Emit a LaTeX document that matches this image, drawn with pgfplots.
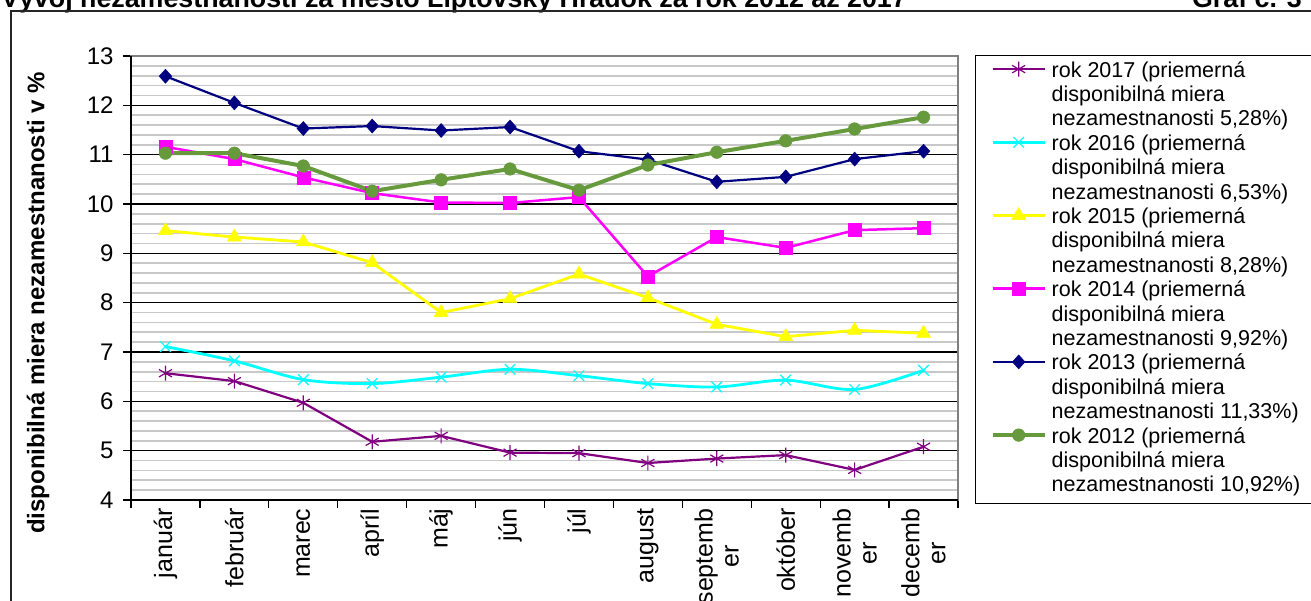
\documentclass[border=0pt]{standalone}
\usepackage{fontspec}
\setmainfont{Liberation Sans}
\usepackage{pgfplots}
\pgfplotsset{compat=1.18}

\definecolor{r17}{HTML}{800080}
\definecolor{r16}{HTML}{00FFFF}
\definecolor{r15}{HTML}{FFFF00}
\definecolor{r14}{HTML}{FF00FF}
\definecolor{r13}{HTML}{000080}
\definecolor{r12}{HTML}{669A3C}
\definecolor{gridminor}{HTML}{C8C8C8}
\definecolor{plotframe}{HTML}{808080}

% three-line legend text, first line on the baseline
\newcommand{\lentry}[2]{\begin{tabular}[t]{@{}l@{\hspace{25pt}}}rok #1 (priemerná\\disponibilná miera\\nezamestnanosti #2\%)\end{tabular}}

\begin{document}
\begin{tikzpicture}
\useasboundingbox (0pt,-601pt) rectangle (1311pt,0pt);
\clip (0pt,-601pt) rectangle (1311pt,0pt);

\node[anchor=base west, inner sep=0, font=\bfseries\fontsize{26.8}{28}\selectfont] at (1pt,-8pt)
  {Vývoj nezamestnanosti za mesto Liptovský Hrádok za rok 2012 až 2017};
\node[anchor=base east, inner sep=0, font=\bfseries\fontsize{26.8}{28}\selectfont] at (1302pt,-8pt) {Graf č. 3};
\draw[line width=1.6pt, black!85] (11pt,-620pt) -- (11pt,-11pt) -- (1330pt,-11pt);

\begin{axis}[
  at={(131pt,-500pt)}, anchor=south west,
  width=827pt, height=444pt, scale only axis,
  xmin=0.5, xmax=12.5, ymin=4, ymax=13,
  xtick={0.5,1.5,...,12.5}, xticklabels={},
  extra x ticks={1,2,3,4,5,6,7,8,9,10,11,12},
  extra x tick labels={január,február,marec,apríl,máj,jún,júl,august,{septemb\\er},október,{novemb\\er},{decemb\\er}},
  extra x tick style={major tick length=0pt},
  ytick={4,5,...,13},
  minor y tick num=4,
  ymajorgrids, yminorgrids,
  major grid style={black, line width=1.3pt},
  minor grid style={gridminor, line width=1.7pt},
  tick align=outside, xtick pos=bottom, ytick pos=left,
  major tick length=8pt, minor tick length=0pt,
  tick style={black, line width=1.3pt},
  axis line style={plotframe, line width=1.3pt},
  /pgf/number format/assume math mode=true,
  tick label style={font=\fontsize{24}{26}\selectfont},
  xticklabel style={rotate=90, anchor=east, align=center, font=\fontsize{25}{26}\selectfont},
  xticklabel shift=5pt,
  yticklabel style={anchor=east},
  yticklabel shift=6pt,
  ylabel={disponibilná miera nezamestnanosti v \%},
  ylabel style={font=\bfseries\fontsize{24}{26}\selectfont, at={(axis description cs:-0.1125,0.4437)}, anchor=center},
  legend style={at={(axis description cs:1.0206,1.0023)}, anchor=north west,
    draw=black, line width=1.3pt, inner xsep=15pt, inner ysep=4.4pt,
    font=\fontsize{21.5}{24.4}\selectfont, row sep=0pt, column sep=5pt,
    nodes={inner sep=0pt, text depth=}, cells={anchor=base west}},
  legend image code/.code={\draw[mark repeat=2, mark phase=2, #1] plot coordinates {(0pt,8pt) (26pt,8pt) (52pt,8pt)};},
]
\addplot[r17, line width=2.2pt, mark=asterisk, mark size=7.5pt, mark options={line width=1.2pt}] coordinates {
  (1,6.57) (2,6.41) (3,5.97) (4,5.18) (5,5.30) (6,4.96) (7,4.95) (8,4.75) (9,4.84) (10,4.91) (11,4.61) (12,5.08)
};
\addlegendentry{\lentry{2017}{5,28}}
\addplot[r16, line width=2.8pt, smooth, tension=0.5, mark=x, mark size=7.5pt, mark options={line width=1.2pt}] coordinates {
  (1,7.11) (2,6.82) (3,6.44) (4,6.36) (5,6.49) (6,6.65) (7,6.52) (8,6.36) (9,6.29) (10,6.43) (11,6.24) (12,6.63)
};
\addlegendentry{\lentry{2016}{6,53}}
\addplot[r15, line width=2.8pt, mark=triangle*, mark size=8pt, mark options={line width=0.5pt, fill=r15}] coordinates {
  (1,9.46) (2,9.33) (3,9.23) (4,8.81) (5,7.80) (6,8.08) (7,8.58) (8,8.10) (9,7.56) (10,7.31) (11,7.44) (12,7.38)
};
\addlegendentry{\lentry{2015}{8,28}}
\addplot[r14, line width=2.5pt, mark=square*, mark size=6.5pt, mark options={line width=0.5pt, fill=r14}] coordinates {
  (1,11.16) (2,10.91) (3,10.54) (4,10.22) (5,10.03) (6,10.02) (7,10.14) (8,8.53) (9,9.33) (10,9.11) (11,9.47) (12,9.51)
};
\addlegendentry{\lentry{2014}{9,92}}
\addplot[r13, line width=2.2pt, mark=diamond*, mark size=7pt, mark options={line width=0.5pt, fill=r13, xscale=1.2}] coordinates {
  (1,12.59) (2,12.05) (3,11.53) (4,11.58) (5,11.49) (6,11.56) (7,11.07) (8,10.90) (9,10.45) (10,10.55) (11,10.91) (12,11.07)
};
\addlegendentry{\lentry{2013}{11,33}}
\addplot[r12, line width=4pt, mark=*, mark size=6.3pt, mark options={line width=0.5pt, fill=r12}] coordinates {
  (1,11.03) (2,11.03) (3,10.77) (4,10.26) (5,10.49) (6,10.71) (7,10.28) (8,10.79) (9,11.05) (10,11.28) (11,11.52) (12,11.76)
};
\addlegendentry{\lentry{2012}{10,92}}
\end{axis}
\draw[black, line width=1.5pt] (131pt,-56pt) -- (131pt,-500pt) -- (958pt,-500pt);
\end{tikzpicture}
\end{document}
